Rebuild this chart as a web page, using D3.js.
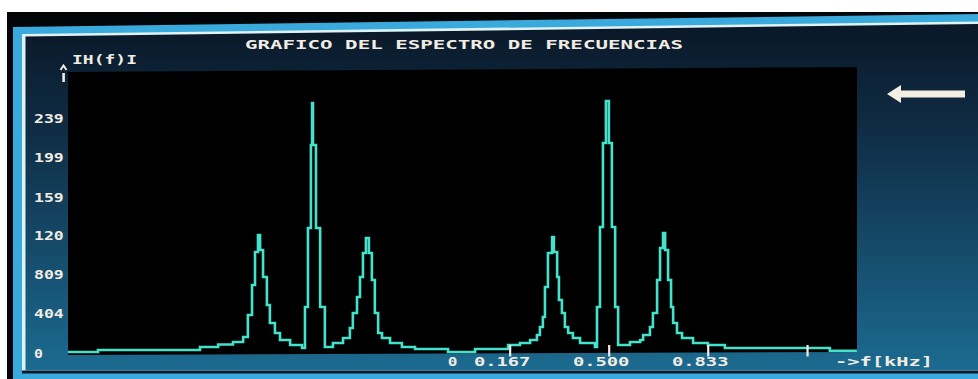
<!DOCTYPE html>
<html>
<head>
<meta charset="utf-8">
<script src="https://cdn.jsdelivr.net/npm/d3@7/dist/d3.min.js"></script>
<style>
  html, body { margin: 0; padding: 0; background: #ffffff; }
  svg { display: block; }
  text { font-family: "DejaVu Sans Mono", "Liberation Mono", monospace; font-weight: bold; fill: #f2ece2; }
</style>
</head>
<body>
<svg id="chart" width="978" height="379"></svg>
<script>
// ---- data ----
const freqs = [-1.320, -1.219, -0.876, -0.815, -0.765, -0.731, -0.715, -0.701, -0.691, -0.681,
  -0.674, -0.664, -0.651, -0.641, -0.624, -0.607, -0.573, -0.533, -0.523, -0.513,
  -0.503, -0.499, -0.496, -0.486, -0.472, -0.456, -0.429, -0.395, -0.372, -0.362,
  -0.348, -0.338, -0.328, -0.318, -0.308, -0.298, -0.288, -0.277, -0.264, -0.237,
  -0.197, -0.153, -0.042, 0.049, 0.160, 0.200, 0.234, 0.257, 0.267, 0.277,
  0.284, 0.294, 0.308, 0.314, 0.325, 0.331, 0.341, 0.351, 0.362, 0.378,
  0.402, 0.452, 0.459, 0.469, 0.479, 0.489, 0.499, 0.509, 0.520, 0.530,
  0.570, 0.604, 0.614, 0.637, 0.647, 0.661, 0.671, 0.681, 0.688, 0.698,
  0.708, 0.715, 0.728, 0.745, 0.782, 0.832, 0.889, 1.242, 1.333];
const magnitudes = [0, 2.0, 5.1, 7.6, 10.2, 15.3, 37.6, 68.1, 101.7, 119.0,
  103.7, 76.3, 47.8, 29.5, 19.3, 12.2, 7.1, 4.1, 45.8, 126.1,
  210.5, 253.2, 210.5, 126.1, 45.8, 5.1, 9.2, 14.2, 24.4, 39.7,
  56.0, 76.3, 100.7, 116.0, 100.7, 73.2, 39.7, 19.3, 14.2, 9.2,
  5.1, 3.1, 0, 3.1, 7.1, 9.2, 12.2, 17.3, 25.4, 35.6,
  66.1, 100.7, 117.0, 101.7, 76.3, 52.9, 39.7, 25.4, 19.3, 14.2,
  9.2, 5.1, 45.8, 127.1, 212.6, 255.3, 212.6, 127.1, 45.8, 7.1,
  10.2, 12.2, 17.3, 25.4, 39.7, 73.2, 105.8, 121.0, 103.7, 73.2,
  45.8, 29.5, 19.3, 14.2, 9.2, 7.1, 4.1, 1.3, 1.3];

const yTickValues = [0, 40.4, 80.9, 120, 159, 199, 239];
const yTickLabels = ["0", "404", "809", "120", "159", "199", "239"];
const xTickMarks = [0.167, 0.5, 0.833, 1.167];
const xLabelValues = [0, 0.167, 0.5, 0.833];
const xLabelTexts = ["0", "0.167", "0.500", "0.833"];
const titleText = "GRAFICO DEL ESPECTRO DE FRECUENCIAS";
const yAxisTitle = "IH(f)I";
const xAxisTitle = "->f[kHz]";

// ---- drawing ----
const svg = d3.select("#chart");
const W = 978, H = 379;

const defs = svg.append("defs");
const grad = defs.append("linearGradient").attr("id", "bg")
  .attr("x1", 0).attr("y1", 0).attr("x2", 0).attr("y2", 1);
grad.append("stop").attr("offset", "0%").attr("stop-color", "#0a1828");
grad.append("stop").attr("offset", "30%").attr("stop-color", "#0f2c44");
grad.append("stop").attr("offset", "70%").attr("stop-color", "#164f6f");
grad.append("stop").attr("offset", "100%").attr("stop-color", "#1c6b91");

// photo surround
svg.append("rect").attr("x", 0).attr("y", 0).attr("width", W).attr("height", H).attr("fill", "#ffffff");
svg.append("rect").attr("x", 7).attr("y", 12).attr("width", W - 7).attr("height", H - 12).attr("fill", "#030608");

// cyan frame
svg.append("polygon").attr("points", "13,27 978,14 978,379 13,379").attr("fill", "#3aa9dc");
// white inner line
svg.append("polygon").attr("points", "22,34 978,21.5 978,372 22,372").attr("fill", "#dff2f4");
// dark separation at bottom
svg.append("rect").attr("x", 22).attr("y", 370.5).attr("width", W - 22).attr("height", 3).attr("fill", "#0a1a26");
// screen background
svg.append("polygon").attr("points", "25.5,36.5 978,24 978,370.5 25.5,370.5").attr("fill", "url(#bg)");

// plot area
const x = d3.scaleLinear().domain([-1.3333, 1.3333]).range([64, 857]);
const y = d3.scaleLinear().domain([0, 239]).range([352, 117]);

svg.append("polygon").attr("points", "68,72 857,67 857,352 68,355").attr("fill", "#000000");

// title
svg.append("text").attr("x", 245).attr("y", 48.5)
  .attr("font-size", 13).attr("textLength", 438).attr("lengthAdjust", "spacingAndGlyphs")
  .text(titleText);

// y axis title and up-arrow mark
svg.append("text").attr("x", 72).attr("y", 63.5).attr("font-size", 12.5)
  .attr("textLength", 65).attr("lengthAdjust", "spacingAndGlyphs").text(yAxisTitle);
svg.append("path")
  .attr("d", "M60.5,70 L63.5,65.5 L66.5,70")
  .attr("fill", "none").attr("stroke", "#f2ece2").attr("stroke-width", 2);
svg.append("rect").attr("x", 62.3).attr("y", 73).attr("width", 2.6).attr("height", 9).attr("fill", "#f2ece2");

// y tick labels
svg.append("g").selectAll("text").data(yTickValues).join("text")
  .attr("x", 34)
  .attr("y", d => y(d) + 1.5 + 4.6)
  .attr("font-size", 12.5)
  .attr("textLength", (d, i) => yTickLabels[i].length * 10.4 - 1.5)
  .attr("lengthAdjust", "spacingAndGlyphs")
  .text((d, i) => yTickLabels[i]);

// spectrum line
const pts = freqs.map((f, i) => [f, magnitudes[i]]);
const line = d3.line().x(d => x(d[0])).y(d => y(d[1])).curve(d3.curveStepAfter);
svg.append("path").datum(pts)
  .attr("d", line)
  .attr("fill", "none")
  .attr("stroke", "#44e2cb")
  .attr("stroke-width", 2.6)
  .attr("stroke-linejoin", "miter");

// x tick marks
svg.append("g").selectAll("line").data(xTickMarks).join("line")
  .attr("x1", d => x(d)).attr("x2", d => x(d))
  .attr("y1", y(0) - 7).attr("y2", y(0) + 4.5)
  .attr("stroke", "#f2ece2").attr("stroke-width", 2.2);

// x labels
svg.append("g").selectAll("text").data(xLabelValues).join("text")
  .attr("x", d => x(d) - 8)
  .attr("y", 365.5)
  .attr("font-size", 12.5)
  .attr("text-anchor", "middle")
  .attr("textLength", (d, i) => xLabelTexts[i].length * 11.7 - 2)
  .attr("lengthAdjust", "spacingAndGlyphs")
  .text((d, i) => xLabelTexts[i]);

svg.append("text").attr("x", 835).attr("y", 365.5).attr("font-size", 12.5)
  .attr("textLength", 98).attr("lengthAdjust", "spacingAndGlyphs").text(xAxisTitle);

// arrow at the right
svg.append("path")
  .attr("d", "M887,94 L901,85 L901,90.5 L965,90.5 L965,97.5 L901,97.5 L901,103 Z")
  .attr("fill", "#f3eee2");
</script>
</body>
</html>
